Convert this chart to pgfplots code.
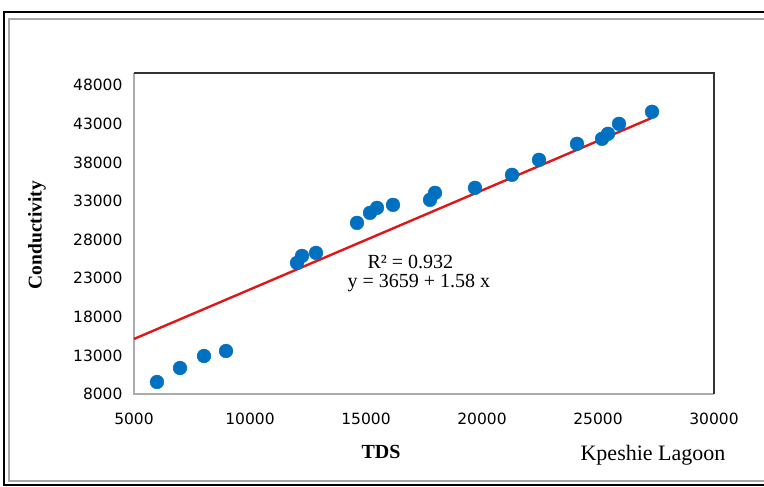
\documentclass[border=0pt]{standalone}
\usepackage{pgfplots}
\pgfplotsset{compat=1.18}
\usepackage{fontspec}
\setmainfont{DejaVu Sans}
\newfontfamily\serif{Liberation Serif}
\definecolor{ptblue}{RGB}{0,112,192}
\definecolor{lnred}{RGB}{222,24,24}
\begin{document}
\begin{tikzpicture}[x=1pt,y=1pt]
\useasboundingbox (0,0) rectangle (764,487);
\fill[white] (0,0) rectangle (764,487);
\draw[black,line width=1.6pt] (4,2) rectangle (780,475);
\draw[gray!70,line width=1.4pt] (9,6) rectangle (780,468);
\begin{axis}[
  at={(134pt,93pt)}, anchor=south west,
  width=580pt, height=321pt, scale only axis,
  xmin=5000, xmax=30000, ymin=8000, ymax=49600,
  xtick={5000,10000,...,30000},
  ytick={8000,13000,...,48000},
  scaled ticks=false,
  /pgf/number format/set thousands separator={},
  /pgf/number format/assume math mode=true,
  major tick length=0pt,
  axis line style={draw=none},
  tick label style={font=\fontsize{15.5}{18}\selectfont},
  yticklabel style={xshift=-8pt},
  xticklabel style={yshift=-15pt},
  clip=false,
]
\draw[gray!65,line width=1.3pt] (rel axis cs:0,1) -- (rel axis cs:0,0) -- (rel axis cs:1,0);
\draw[black!80,line width=1.3pt] (rel axis cs:0,1) -- (rel axis cs:1,1) -- (rel axis cs:1,0);
\addplot[lnred, line width=2.4pt] coordinates {(5000,15133) (27330,43793)};
\addplot[only marks, mark=*, mark size=6.9pt, mark options={fill=ptblue, draw=ptblue}] coordinates {
(5991,9556) (6983,11372) (8017,12928) (8966,13576)
(12026,24989) (12241,25897) (12845,26286)
(14612,30176) (15172,31473) (15474,32121) (16164,32510)
(17759,33159) (17974,34067) (19698,34715) (21293,36401)
(22457,38346) (24095,40421) (25172,41070) (25431,41718)
(25905,43015) (27328,44571)
};
\end{axis}
\node[font=\serif\fontsize{20}{22}\selectfont, anchor=west] at (364,225) {R² = 0.932};
\node[font=\serif\fontsize{20}{22}\selectfont, anchor=west] at (344,204) {y = 3659 + 1.58 x};
\node[font=\serif\bfseries\fontsize{20}{22}\selectfont] at (381,35) {TDS};
\node[font=\serif\fontsize{22}{24}\selectfont] at (653,32) {Kpeshie Lagoon};
\node[font=\serif\bfseries\fontsize{19.5}{22}\selectfont, rotate=90] at (37,252) {Conductivity};
\end{tikzpicture}
\end{document}
